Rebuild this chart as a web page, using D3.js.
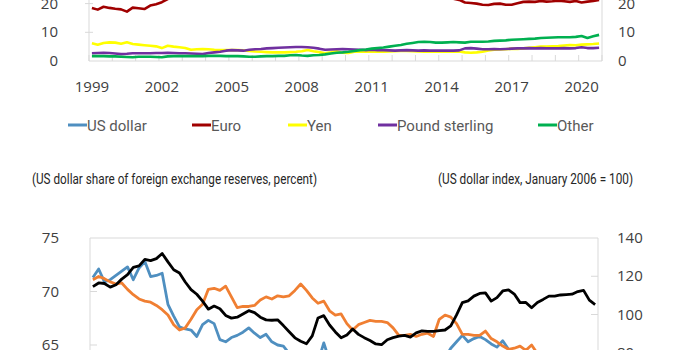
<!DOCTYPE html>
<html>
<head>
<meta charset="utf-8">
<script src="https://cdn.jsdelivr.net/npm/d3@7"></script>
<style>
  body { margin: 0; background: #fff; }
  .tick-num { font-family: "Open Sans", "Noto Sans", sans-serif; font-size: 15px; fill: #404040; }
  .legend-text { font-family: "Liberation Sans Narrow", "Roboto", sans-serif; font-size: 15px; fill: #595959; }
  .sub { font-family: "Liberation Sans Narrow", "Roboto", sans-serif; font-size: 14px; fill: #262626; }
</style>
</head>
<body>
<svg id="chart" width="680" height="350"></svg>
<script>
// quarterly, 1999Q1 .. 2020Q4
let years = [1999, 2002, 2005, 2008, 2011, 2014, 2017, 2020];

let usdShare = [71.3,72.1,70.9,71.1,71.5,71.9,72.3,71.1,72.2,72.8,71.4,71.5,71.7,68.8,67.7,66.7,
  66.5,66.4,65.8,66.9,67.3,67.0,65.5,65.3,65.7,65.9,66.2,66.6,66.1,65.7,66.0,65.3,
  65.0,64.9,64.2,63.9,63.5,63.2,63.0,63.4,65.2,63.5,62.5,62.2,62.0,62.3,61.9,62.0,
  62.4,62.6,62.0,61.8,61.5,61.4,61.6,61.3,61.2,61.4,61.0,61.3,62.6,63.8,64.7,65.3,
  65.9,65.3,65.6,65.8,65.5,65.1,64.8,65.4,64.6,64.0,63.5,62.9,62.4,62.0,61.8,61.9,
  61.6,61.8,61.4,60.9,61.3,60.6,60.3,59.0];

let euroShare = [18.5,17.9,18.9,18.5,18.2,18.0,17.2,18.6,18.4,18.1,19.3,19.8,20.5,21.6,22.3,23.1,
  23.8,24.4,24.9,24.6,24.3,24.7,24.2,24.6,25.0,25.4,25.1,25.6,26.0,26.2,26.0,26.3,
  25.9,26.2,26.1,26.5,26.9,26.6,27.5,27.9,27.7,27.4,27.6,27.8,27.2,26.7,26.1,25.4,
  24.9,24.7,24.5,23.9,24.2,24.3,24.4,24.1,23.8,23.5,22.7,22.1,22.0,21.9,21.7,21.3,
  20.4,20.2,20.0,19.6,19.5,19.9,20.0,19.6,19.6,20.1,20.6,20.7,20.6,20.9,20.7,20.8,
  21.0,20.8,20.6,20.9,20.4,20.7,20.9,21.3];

let yenShare = [6.2,5.7,6.3,6.5,6.4,6.0,6.5,5.9,5.7,5.5,5.3,5.1,4.5,5.3,5.0,4.8,
  4.5,3.9,4.1,4.2,4.1,3.9,3.8,3.8,3.8,3.8,3.7,3.5,3.3,3.2,3.1,3.0,
  3.0,3.0,3.1,3.2,3.4,3.8,3.4,3.1,2.7,3.0,3.4,2.9,2.8,3.2,3.3,3.2,
  3.2,3.3,3.2,3.3,3.4,3.5,3.5,3.4,3.3,3.2,3.3,3.2,3.2,3.2,3.2,3.3,
  3.0,2.9,3.0,3.2,3.7,3.9,4.0,4.1,4.3,4.2,4.4,4.6,4.8,5.0,5.0,5.1,
  5.2,5.4,5.6,5.5,5.7,5.8,5.9,6.1];

let gbpShare = [2.7,2.8,2.9,2.8,2.6,2.4,2.5,2.7,2.7,2.7,2.7,2.8,2.8,2.9,2.8,2.7,
  2.7,2.6,2.5,2.4,2.8,3.0,3.2,3.6,3.8,3.7,3.6,3.9,4.1,4.2,4.4,4.5,
  4.6,4.7,4.8,4.9,4.9,4.8,4.6,4.3,3.9,4.0,4.1,4.2,4.1,4.0,3.9,3.8,
  3.9,3.8,3.8,3.7,3.6,3.7,3.8,3.7,3.6,3.7,3.6,3.6,3.6,3.6,3.6,3.7,
  4.4,4.5,4.3,4.1,4.1,4.2,4.1,4.2,4.3,4.4,4.4,4.5,4.4,4.5,4.4,4.4,
  4.4,4.5,4.4,4.5,4.8,4.5,4.5,4.6];

let otherShare = [1.7,1.7,1.7,1.6,1.6,1.5,1.4,1.3,1.5,1.5,1.5,1.4,1.3,1.6,1.7,1.7,
  1.7,1.7,1.7,1.7,1.8,1.8,1.8,1.7,1.7,1.7,1.6,1.5,1.5,1.6,1.7,1.7,
  1.8,1.8,2.0,2.1,1.9,1.8,2.0,2.1,2.3,2.6,2.9,3.0,3.2,3.5,3.8,4.0,
  4.3,4.5,4.7,5.0,5.3,5.6,6.0,6.3,6.6,6.7,6.6,6.4,6.4,6.5,6.6,6.5,
  6.4,6.7,6.7,6.7,6.8,7.0,7.1,7.2,7.4,7.5,7.6,7.7,7.8,8.0,8.1,8.2,
  8.3,8.3,8.3,8.4,8.7,8.0,8.6,9.1];

// share at constant exchange rates
let usdConstShare = [71.1,71.4,71.2,70.9,70.7,70.8,70.2,69.7,69.3,69.1,69.0,68.7,68.3,67.8,66.9,66.4,
  66.6,67.4,68.3,68.8,70.2,70.3,70.1,70.5,69.5,68.5,68.6,68.6,68.7,69.2,69.5,69.3,
  69.6,69.5,69.6,70.1,70.7,70.1,69.4,68.9,69.1,68.2,67.8,67.9,67.0,66.4,66.9,67.1,
  67.3,67.2,67.2,67.1,66.6,65.9,65.9,66.0,65.8,66.0,66.1,65.8,67.4,67.8,67.6,67.0,
  66.0,66.0,65.9,65.9,66.3,65.6,65.3,64.9,64.6,64.7,64.9,64.5,65.0,64.2,63.8,63.5,
  63.6,63.2,62.9,63.0,62.6,62.4,62.1,61.8];

// US dollar index, Jan 2006 = 100
let usdIndex = [114.6,116.5,116.2,114.3,115.6,118.5,120.8,124.6,125.4,128.8,128.2,129.2,131.9,127.5,123.4,121.7,
  117.0,113.0,110.6,107.0,102.8,104.4,103.0,99.5,98.1,98.6,100.3,102.0,101.0,98.6,97.2,97.0,
  97.2,94.2,91.0,87.8,86.0,84.7,88.8,98.2,99.4,94.5,90.9,87.8,89.3,92.4,89.6,87.9,
  86.4,84.6,84.2,86.8,87.9,88.7,89.1,88.2,90.4,91.4,91.2,91.2,91.6,91.9,94.0,99.8,
  106.2,107.1,109.6,111.0,111.3,107.0,108.8,112.3,112.9,110.7,106.2,106.3,103.5,106.3,107.9,109.6,
  109.6,110.2,110.4,110.6,112.0,112.6,107.5,105.2];

let legendNames = ["US dollar", "Euro", "Yen", "Pound sterling", "Other"];
let legendColors = ["#4f8fc0", "#a00000", "#ffff00", "#7030a0", "#00b050"];

let svg = d3.select("#chart");
let axisColor = "#d9d9d9";

// ---------- top chart (shares by currency) ----------
let x1 = d3.scaleBand().domain(d3.range(usdShare.length)).range([89, 602]);
let y1 = d3.scaleLinear().domain([0, 20]).range([61, 3.6]);
let cx1 = i => x1(i) + x1.bandwidth() / 2;

let topG = svg.append("g");

topG.append("line").attr("x1", 89).attr("x2", 89).attr("y1", -5).attr("y2", y1(0)).attr("stroke", axisColor);
topG.append("line").attr("x1", 602).attr("x2", 602).attr("y1", -5).attr("y2", y1(0)).attr("stroke", axisColor);
topG.append("line").attr("x1", 89).attr("x2", 602).attr("y1", y1(0)).attr("y2", y1(0)).attr("stroke", axisColor);

// year ticks every 4 quarters
topG.selectAll(".xt").data(d3.range(0, usdShare.length + 1, 4)).enter()
  .append("line")
  .attr("x1", i => i < usdShare.length ? x1(i) : 602)
  .attr("x2", i => i < usdShare.length ? x1(i) : 602)
  .attr("y1", y1(0) - 6).attr("y2", y1(0))
  .attr("stroke", axisColor);

topG.selectAll(".yt").data([10, 20]).enter()
  .append("line")
  .attr("x1", 85).attr("x2", 93)
  .attr("y1", d => y1(d)).attr("y2", d => y1(d))
  .attr("stroke", axisColor);

topG.selectAll(".yl").data([0, 10, 20]).enter()
  .append("text").attr("class", "tick-num")
  .attr("x", 58).attr("y", d => y1(d) + 5)
  .attr("text-anchor", "end").text(d => d);

topG.selectAll(".yr").data([0, 10, 20]).enter()
  .append("text").attr("class", "tick-num")
  .attr("x", 618).attr("y", d => y1(d) + 5)
  .text(d => d);

topG.selectAll(".xl").data(years).enter()
  .append("text").attr("class", "tick-num")
  .attr("x", d => cx1((d - 1999) * 4)).attr("y", 92)
  .attr("text-anchor", "middle").text(d => d);

let topSeries = [usdShare, euroShare, yenShare, gbpShare, otherShare];
let line1 = d3.line().x((d, i) => cx1(i)).y(d => y1(d));

topSeries.forEach((s, k) => {
  topG.append("path")
    .datum(s)
    .attr("fill", "none")
    .attr("stroke", legendColors[k])
    .attr("stroke-width", 2.6)
    .attr("stroke-linejoin", "round")
    .attr("d", line1);
});

// legend
let legendX = [68, 192, 288, 378, 538];
let legend = svg.append("g").attr("transform", "translate(0,125)");
legendNames.forEach((n, k) => {
  legend.append("line")
    .attr("x1", legendX[k]).attr("x2", legendX[k] + 19)
    .attr("y1", 0).attr("y2", 0)
    .attr("stroke", legendColors[k]).attr("stroke-width", 3);
  legend.append("text").attr("class", "legend-text")
    .attr("x", legendX[k] + 19).attr("y", 5.5)
    .text(n);
});

// ---------- bottom chart ----------
svg.append("text").attr("class", "sub").attr("x", 32).attr("y", 184)
  .attr("textLength", 285).attr("lengthAdjust", "spacingAndGlyphs")
  .text("(US dollar share of foreign exchange reserves, percent)");
svg.append("text").attr("class", "sub").attr("x", 438).attr("y", 184)
  .attr("textLength", 195).attr("lengthAdjust", "spacingAndGlyphs")
  .text("(US dollar index, January 2006 = 100)");

let x2 = d3.scaleBand().domain(d3.range(usdShare.length)).range([90, 598]);
let yL = d3.scaleLinear().domain([65, 75]).range([345, 238]);
let yR = d3.scaleLinear().domain([100, 140]).range([314.5, 238]);
let cx2 = i => x2(i) + x2.bandwidth() / 2;

let bot = svg.append("g");

bot.append("line").attr("x1", 90).attr("x2", 598).attr("y1", 238).attr("y2", 238).attr("stroke", axisColor);
bot.append("line").attr("x1", 90).attr("x2", 90).attr("y1", 238).attr("y2", 360).attr("stroke", axisColor);
bot.append("line").attr("x1", 598).attr("x2", 598).attr("y1", 238).attr("y2", 360).attr("stroke", axisColor);

bot.selectAll(".lt").data([70, 65]).enter()
  .append("line").attr("x1", 90).attr("x2", 97)
  .attr("y1", d => yL(d)).attr("y2", d => yL(d))
  .attr("stroke", axisColor);
bot.selectAll(".rt").data([120, 100, 80]).enter()
  .append("line").attr("x1", 591).attr("x2", 598)
  .attr("y1", d => yR(d)).attr("y2", d => yR(d))
  .attr("stroke", axisColor);

bot.selectAll(".ll").data([75, 70, 65]).enter()
  .append("text").attr("class", "tick-num")
  .attr("x", 59).attr("y", d => yL(d) + 5)
  .attr("text-anchor", "end").text(d => d);
bot.selectAll(".rl").data([140, 120, 100, 80]).enter()
  .append("text").attr("class", "tick-num")
  .attr("x", 617).attr("y", d => yR(d) + 5)
  .text(d => d);

let lineL = d3.line().x((d, i) => cx2(i)).y(d => yL(d));
let lineR = d3.line().x((d, i) => cx2(i)).y(d => yR(d));

bot.append("path").datum(usdShare)
  .attr("fill", "none").attr("stroke", "#4f8fc0").attr("stroke-width", 2.8)
  .attr("stroke-linejoin", "round").attr("d", lineL);
bot.append("path").datum(usdConstShare)
  .attr("fill", "none").attr("stroke", "#f07f32").attr("stroke-width", 2.8)
  .attr("stroke-linejoin", "round").attr("d", lineL);
bot.append("path").datum(usdIndex)
  .attr("fill", "none").attr("stroke", "#000").attr("stroke-width", 2.8)
  .attr("stroke-linejoin", "round").attr("d", lineR);
</script>
</body>
</html>
